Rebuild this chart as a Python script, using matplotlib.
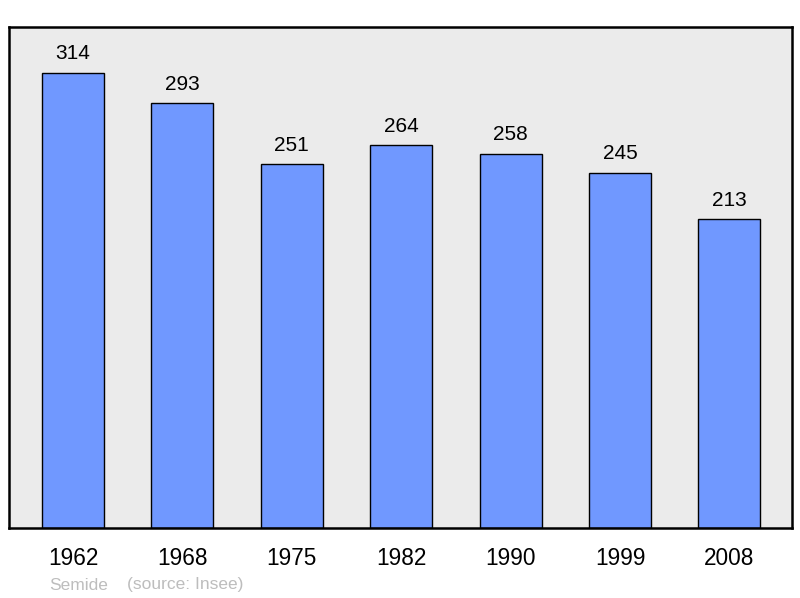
import matplotlib
matplotlib.use("Agg")
import matplotlib.pyplot as plt

years = ["1962", "1968", "1975", "1982", "1990", "1999", "2008"]
population = [314, 293, 251, 264, 258, 245, 213]

plt.rcParams['font.family'] = ['Liberation Sans', 'DejaVu Sans']

fig = plt.figure(figsize=(8, 5.98), dpi=100)
ax = fig.add_axes([9/800, 1 - 528/598, 783/800, 501/598])
ax.set_facecolor('#ebebeb')

x = list(range(len(years)))
ax.bar(x, population, width=0.567, color='#7098ff', edgecolor='black', linewidth=1.0, zorder=2)
for xi, v in zip(x, population):
    ax.annotate(str(v), (xi, v), xytext=(0, 7), textcoords='offset points',
                ha='center', va='bottom', fontsize=15)

ax.set_xlim(-0.585, 6.572)
ax.set_ylim(0, 345.7)
ax.set_yticks([])
ax.set_xticks(x)
ax.set_xticklabels(years, fontsize=16.3)
ax.tick_params(axis='x', length=0, pad=14)
for s in ax.spines.values():
    s.set_linewidth(1.8)
    s.set_color('black')

fig.text(49/800, 1 - 589.5/598, "Semide", color='#bdbdbd', fontsize=12.5, va='baseline', ha='left')
fig.text(127/800, 1 - 589.5/598, "(source: Insee)", color='#bdbdbd', fontsize=12.5, va='baseline', ha='left')

fig.savefig("out.png", dpi=100)
